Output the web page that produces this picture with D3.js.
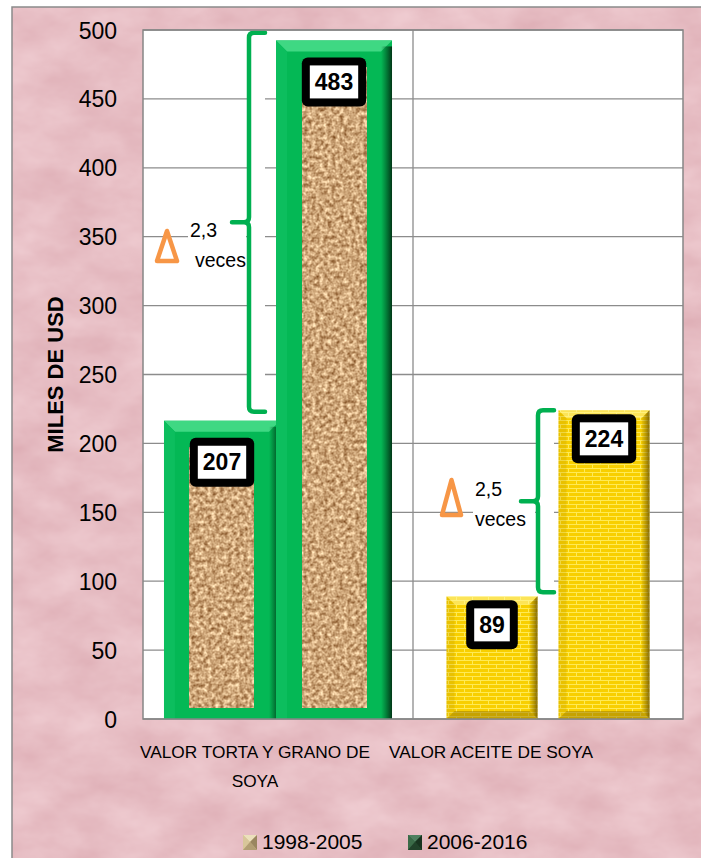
<!DOCTYPE html>
<html><head><meta charset="utf-8">
<script src="https://cdn.jsdelivr.net/npm/d3@7"></script>
<style>html,body{margin:0;padding:0;background:#fff}svg{display:block}</style>
</head><body><svg id="chart" width="701" height="858"></svg>
<script>
// ---------- DATA ----------
const categories = ["VALOR TORTA Y GRANO DE SOYA", "VALOR ACEITE DE SOYA"];
const categoryLines = [["VALOR TORTA Y GRANO DE", "SOYA"], ["VALOR ACEITE DE SOYA"]];
const seriesNames = ["1998-2005", "2006-2016"];
const values1998_2005 = [207, 89];
const values2006_2016 = [483, 224];
const yTicks = [0, 50, 100, 150, 200, 250, 300, 350, 400, 450, 500];
const yAxisTitle = "MILES DE USD";
const growthFactors = ["2,3", "2,5"];
const growthWord = "veces";
const braceTopValues = [498, 224];
const braceBottomValues = [223, 92];

// ---------- LAYOUT ----------
const FONT = "'Liberation Sans', Arial, sans-serif";
const plot = {left: 143, right: 683, top: 30, bottom: 719};
const svg = d3.select("#chart");
const defs = svg.append("defs");

// pink marble
const fm = defs.append("filter").attr("id", "marble").attr("x", 0).attr("y", 0).attr("width", 1).attr("height", 1)
  .attr("color-interpolation-filters", "sRGB");
fm.append("feTurbulence").attr("type", "fractalNoise").attr("baseFrequency", "0.018 0.03").attr("numOctaves", 4).attr("seed", 7);
fm.append("feColorMatrix").attr("type", "matrix").attr("values",
  "0.08 0 0 0 0.866  0.14 0 0 0 0.675  0.13 0 0 0 0.704  0 0 0 0 1");
// cork
const fc = defs.append("filter").attr("id", "cork").attr("x", 0).attr("y", 0).attr("width", 1).attr("height", 1)
  .attr("color-interpolation-filters", "sRGB");
fc.append("feTurbulence").attr("type", "fractalNoise").attr("baseFrequency", "0.25").attr("numOctaves", 3).attr("seed", 4);
fc.append("feColorMatrix").attr("type", "matrix").attr("values",
  "0.75 0 0 0 0.43  0.85 0 0 0 0.225  0.85 0 0 0 0.05  0 0 0 0 1");
// bricks
const bp = defs.append("pattern").attr("id", "bricks").attr("patternUnits", "userSpaceOnUse").attr("width", 16).attr("height", 8);
bp.append("rect").attr("width", 16).attr("height", 8).attr("fill", "#f8cf00");
bp.append("path").attr("d", "M0,0.5H16M0,4.5H16M0.5,0V4M8.5,4V8").attr("stroke", "#ffea55").attr("stroke-width", 1).attr("fill", "none");
// shades
const gr = defs.append("linearGradient").attr("id", "gShade").attr("x1", 0).attr("x2", 1).attr("y1", 0).attr("y2", 0);
gr.append("stop").attr("offset", 0).attr("stop-color", "#003d18").attr("stop-opacity", 0);
gr.append("stop").attr("offset", 1).attr("stop-color", "#002810").attr("stop-opacity", 0.9);
const yr = defs.append("linearGradient").attr("id", "yShade").attr("x1", 0).attr("x2", 1).attr("y1", 0).attr("y2", 0);
yr.append("stop").attr("offset", 0).attr("stop-color", "#7a6000").attr("stop-opacity", 0.1);
yr.append("stop").attr("offset", 1).attr("stop-color", "#5a4400").attr("stop-opacity", 0.75);

// background
svg.append("rect").attr("width", 701).attr("height", 858).attr("fill", "#fff");
svg.append("rect").attr("x", 12).attr("y", 7).attr("width", 700).attr("height", 860)
  .attr("fill", "#e5bcc1").attr("filter", "url(#marble)");
svg.append("rect").attr("x", 12).attr("y", 7).attr("width", 700).attr("height", 860)
  .attr("fill", "none").attr("stroke", "#8a8a8a").attr("stroke-width", 1.5);

// scales
const y = d3.scaleLinear().domain([0, 500]).range([plot.bottom, plot.top]);
const x0 = d3.scaleBand().domain(categories).range([plot.left, plot.right]);
const x1 = d3.scaleBand().domain(seriesNames).range([0, x0.bandwidth()]).paddingInner(0.1875).paddingOuter(0.299);
const xLabel = d3.scaleBand().domain(categories).range([137, 609]);

// plot area
svg.append("rect").attr("x", plot.left).attr("y", plot.top).attr("width", plot.right - plot.left)
  .attr("height", plot.bottom - plot.top).attr("fill", "#fff");
const grid = svg.append("g").attr("stroke", "#8c8c8c").attr("stroke-width", 1.3);
grid.selectAll("line.h").data(yTicks).join("line").attr("class", "h")
  .attr("x1", plot.left).attr("x2", plot.right).attr("y1", d => y(d)).attr("y2", d => y(d));
grid.selectAll("line.v").data(categories.slice(1)).join("line").attr("class", "v")
  .attr("x1", d => x0(d)).attr("x2", d => x0(d)).attr("y1", plot.top).attr("y2", plot.bottom);

// y axis (labels only)
const yAxis = d3.axisLeft(y).tickValues(yTicks).tickSize(0).tickPadding(0);
const ya = svg.append("g").attr("transform", `translate(117,0)`).call(yAxis);
ya.select(".domain").remove();
ya.selectAll("text").attr("font-family", FONT).attr("font-size", 23).attr("fill", "#000").attr("dy", "0.35em");

svg.append("text").attr("transform", `translate(63,${(plot.top + plot.bottom) / 2}) rotate(-90)`)
  .attr("text-anchor", "middle").attr("font-family", FONT).attr("font-weight", "bold")
  .attr("font-size", 22).text(yAxisTitle);

// annotation backgrounds
const braceX = [249, 538];
const textX = [190, 475];
const textBase = [237, 496];
const annG = svg.append("g");
categories.forEach((c, i) => {
  const T = y(braceTopValues[i]), B = y(braceBottomValues[i]);
  annG.append("rect").attr("x", braceX[i]).attr("y", T).attr("width", 16).attr("height", B - T).attr("fill", "#fff");
  annG.append("rect").attr("x", textX[i] - 2).attr("y", textBase[i] - 18).attr("width", braceX[i] - textX[i] - 1)
    .attr("height", 40).attr("fill", "#fff");
});

// bars
const bars = [];
categories.forEach((c, i) => {
  bars.push({cat: c, ci: i, s: seriesNames[0], v: values1998_2005[i]});
  bars.push({cat: c, ci: i, s: seriesNames[1], v: values2006_2016[i]});
});
const barG = svg.append("g");
bars.forEach(d => {
  const bx = x0(d.cat) + x1(d.s), bw = x1.bandwidth(), by = y(d.v), base = y(0);
  const g = barG.append("g");
  if (d.ci === 0) {
    const e = 12.5, ox = bx - e, oy = by - 13, ow = bw + 2 * e, oh = base - oy, b = 11;
    g.append("rect").attr("x", ox).attr("y", oy).attr("width", ow).attr("height", oh).attr("fill", "#04b855");
    g.append("path").attr("d", `M${ox},${oy}H${ox + ow}L${ox + ow - b},${oy + b}H${ox + b}Z`).attr("fill", "#3fd883");
    g.append("path").attr("d", `M${ox},${oy}L${ox + b},${oy + b}V${base}H${ox}Z`).attr("fill", "#0cbe5e");
    g.append("rect").attr("x", ox + ow - 11).attr("y", oy + 6).attr("width", 11).attr("height", oh - 6).attr("fill", "url(#gShade)");
    g.append("rect").attr("x", bx + 13.5).attr("y", by + 14).attr("width", bw - 27).attr("height", base - 11 - by - 14)
      .attr("fill", "#c9a27a").attr("filter", "url(#cork)");
  } else {
    const b = 8, oh = base - by;
    g.append("rect").attr("x", bx).attr("y", by).attr("width", bw).attr("height", oh).attr("fill", "url(#bricks)");
    g.append("path").attr("d", `M${bx},${by}H${bx + bw}L${bx + bw - b},${by + b}H${bx + b}Z`).attr("fill", "#fff6a0").attr("opacity", 0.55);
    g.append("path").attr("d", `M${bx},${by}L${bx + b},${by + b}V${base - b}L${bx},${base}Z`).attr("fill", "#b08a00").attr("opacity", 0.2);
    g.append("path").attr("d", `M${bx + bw},${by}L${bx + bw - b},${by + b}V${base - b}L${bx + bw},${base}Z`).attr("fill", "url(#yShade)");
    g.append("path").attr("d", `M${bx},${base}L${bx + b},${base - b}H${bx + bw - b}L${bx + bw},${base}Z`).attr("fill", "#8a6a00").attr("opacity", 0.45);
  }
});

// value labels
bars.forEach(d => {
  const cx = x0(d.cat) + x1(d.s) + x1.bandwidth() / 2, top = y(d.v) + 4;
  const g = barG.append("g");
  const outer = g.append("rect"), inner = g.append("rect");
  const t = g.append("text").attr("x", cx).attr("y", top + 24.5).attr("dy", "0.35em").attr("text-anchor", "middle")
    .attr("font-family", FONT).attr("font-weight", "bold").attr("font-size", 23).text(d.v);
  const tw = t.node().getComputedTextLength(), w = tw + 26, h = 49;
  outer.attr("x", cx - w / 2).attr("y", top).attr("width", w).attr("height", h).attr("rx", 6).attr("fill", "#000");
  inner.attr("x", cx - w / 2 + 8).attr("y", top + 8).attr("width", w - 16).attr("height", h - 16).attr("fill", "#fff");
});

// braces, deltas, texts
const triX = [167, 451.5], triTop = [231, 480], triH = [30, 35], triW = [20, 19];
categories.forEach((c, i) => {
  const X = braceX[i], T = y(braceTopValues[i]), B = y(braceBottomValues[i]), M = (T + B) / 2, r = 5;
  svg.append("path").attr("d",
    `M${X + 16},${T}H${X + r}Q${X},${T} ${X},${T + r}V${M - r}Q${X},${M} ${X - r},${M}H${X - 17}` +
    `M${X - r},${M}Q${X},${M} ${X},${M + r}V${B - r}Q${X},${B} ${X + r},${B}H${X + 16}`)
    .attr("fill", "none").attr("stroke", "#00b050").attr("stroke-width", 4.5).attr("stroke-linecap", "round");
  svg.append("path").attr("d", `M${triX[i]},${triTop[i]}L${triX[i] + triW[i] / 2},${triTop[i] + triH[i]}H${triX[i] - triW[i] / 2}Z`)
    .attr("fill", "none").attr("stroke", "#f79646").attr("stroke-width", 4.5).attr("stroke-linejoin", "round");
  svg.append("text").attr("x", textX[i]).attr("y", textBase[i]).attr("font-family", FONT).attr("font-size", 19.5).text(growthFactors[i]);
  svg.append("text").attr("x", textX[i] + (i === 0 ? 5 : 0)).attr("y", textBase[i] + 29.5).attr("font-family", FONT).attr("font-size", 19.5).text(growthWord);
});

// plot border
svg.append("rect").attr("x", plot.left).attr("y", plot.top).attr("width", plot.right - plot.left)
  .attr("height", plot.bottom - plot.top).attr("fill", "none").attr("stroke", "#868686").attr("stroke-width", 1.5);

// category labels
categories.forEach((c, i) => {
  const t = svg.append("text").attr("text-anchor", "middle").attr("font-family", FONT).attr("font-size", 17.3);
  categoryLines[i].forEach((ln, j) => {
    t.append("tspan").attr("x", xLabel(c) + xLabel.bandwidth() / 2).attr("y", 758 + j * 28.5).text(ln);
  });
});

// legend
const legendColors = [
  {c: "#d2bf92", t: "#ece0bc", l: "#d8c69a", r: "#9a8660", b: "#b29e74"},
  {c: "#2d5a39", t: "#4f8060", l: "#3b6b48", r: "#18331f", b: "#21422a"}
];
seriesNames.forEach((s, i) => {
  const lx = 243 + i * 165, ly = 835, sz = 14;
  const g = svg.append("g");
  const col = legendColors[i], h = sz / 2;
  g.append("rect").attr("x", lx).attr("y", ly).attr("width", sz).attr("height", sz + 1).attr("fill", col.c);
  g.append("path").attr("d", `M${lx},${ly}H${lx + sz}L${lx + h},${ly + h}Z`).attr("fill", col.t);
  g.append("path").attr("d", `M${lx},${ly}V${ly + sz + 1}L${lx + h},${ly + h}Z`).attr("fill", col.l);
  g.append("path").attr("d", `M${lx + sz},${ly}V${ly + sz + 1}L${lx + h},${ly + h}Z`).attr("fill", col.r);
  g.append("path").attr("d", `M${lx},${ly + sz + 1}H${lx + sz}L${lx + h},${ly + h}Z`).attr("fill", col.b);
  g.append("text").attr("x", lx + 19).attr("y", 849).attr("font-family", FONT).attr("font-size", 21).text(s);
});
</script></body></html>
